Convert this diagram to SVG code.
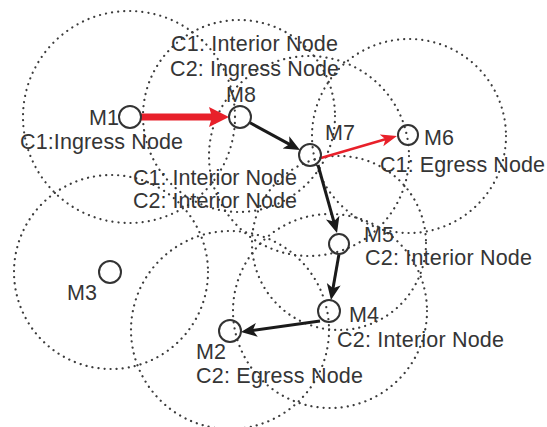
<svg xmlns="http://www.w3.org/2000/svg" width="547" height="427" viewBox="0 0 547 427">
<style>
.range{fill:none;stroke:#3c3c3c;stroke-width:2.2;stroke-dasharray:0.1 6;stroke-linecap:round}
.node{fill:none;stroke:#333;stroke-width:2}
.lbl{font-family:"Liberation Sans",Arial,sans-serif;font-size:21.5px;fill:#353535}
.blk{stroke:#1a1a1a;stroke-width:3;fill:none}
.red{stroke:#e8202a;fill:none}
</style>
<defs>
<marker id="ahB" markerUnits="userSpaceOnUse" markerWidth="20" markerHeight="16" viewBox="0 -8 20 16" refX="10" refY="0" orient="auto">
<path d="M0,-7 L16,0 L0,7 L4,0 z" fill="#1a1a1a"/>
</marker>
<marker id="ahR" markerUnits="userSpaceOnUse" markerWidth="20" markerHeight="14" viewBox="0 -7 20 14" refX="11" refY="0" orient="auto">
<path d="M0,-6 L16,0 L0,6 L4,0 z" fill="#e8202a"/>
</marker>
<marker id="ahRT" markerUnits="userSpaceOnUse" markerWidth="24" markerHeight="22" viewBox="0 -11 24 22" refX="8" refY="0" orient="auto">
<path d="M0,-10 L20,0 L0,10 L3,0 z" fill="#e8202a"/>
</marker>
</defs>
<rect width="547" height="427" fill="#fff"/>
<g id="ranges">
<circle class="range" cx="129" cy="117" r="106"/>
<circle class="range" cx="239" cy="116" r="96"/>
<circle class="range" cx="309" cy="156" r="100"/>
<circle class="range" cx="409" cy="136" r="97"/>
<circle class="range" cx="339" cy="243" r="87"/>
<circle class="range" cx="330" cy="311" r="97"/>
<circle class="range" cx="230" cy="330" r="99"/>
<circle class="range" cx="111" cy="272" r="97"/>
</g>
<g id="connectors">
<line class="red" stroke-width="7" x1="141" y1="117" x2="217" y2="117" marker-end="url(#ahRT)"/>
<line class="blk" x1="249.5" y1="122.5" x2="294.7" y2="147.1" marker-end="url(#ahB)"/>
<line class="red" stroke-width="2.5" x1="321" y1="158" x2="392.2" y2="137.3" marker-end="url(#ahR)"/>
<line class="blk" x1="318" y1="165" x2="335.4" y2="227.2" marker-end="url(#ahB)"/>
<line class="blk" x1="339" y1="254" x2="332" y2="294.1" marker-end="url(#ahB)"/>
<line class="blk" x1="320" y1="321" x2="246.9" y2="331.2" marker-end="url(#ahB)"/>
</g>
<g id="M1">
<circle class="node" cx="130" cy="117" r="11"/>
<text class="lbl" x="89" y="125" textLength="30">M1</text>
<text class="lbl" x="20" y="149" textLength="163">C1:Ingress Node</text>
</g>
<g id="M8">
<circle class="node" cx="240" cy="117" r="11"/>
<text class="lbl" x="226" y="102">M8</text>
<text class="lbl" x="171" y="51" textLength="167">C1: Interior Node</text>
<text class="lbl" x="170" y="76" textLength="169">C2: Ingress Node</text>
</g>
<g id="M7">
<circle class="node" cx="310" cy="155" r="11"/>
<text class="lbl" x="325" y="140">M7</text>
<text class="lbl" x="133" y="185" textLength="164">C1: Interior Node</text>
<text class="lbl" x="133" y="208" textLength="164">C2: Interior Node</text>
</g>
<g id="M6">
<circle class="node" cx="408" cy="135" r="10"/>
<text class="lbl" x="424" y="145">M6</text>
<text class="lbl" x="380" y="172" textLength="165">C1: Egress Node</text>
</g>
<g id="M5">
<circle class="node" cx="339" cy="244" r="10"/>
<text class="lbl" x="364" y="242">M5</text>
<text class="lbl" x="365" y="265" textLength="167">C2: Interior Node</text>
</g>
<g id="M4">
<circle class="node" cx="329" cy="311" r="11"/>
<text class="lbl" x="349" y="322">M4</text>
<text class="lbl" x="337" y="347" textLength="167">C2: Interior Node</text>
</g>
<g id="M2">
<circle class="node" cx="230" cy="331" r="11"/>
<text class="lbl" x="196" y="359">M2</text>
<text class="lbl" x="196" y="383" textLength="167">C2: Egress Node</text>
</g>
<g id="M3">
<circle class="node" cx="110" cy="272" r="11"/>
<text class="lbl" x="67" y="300">M3</text>
</g>
</svg>
